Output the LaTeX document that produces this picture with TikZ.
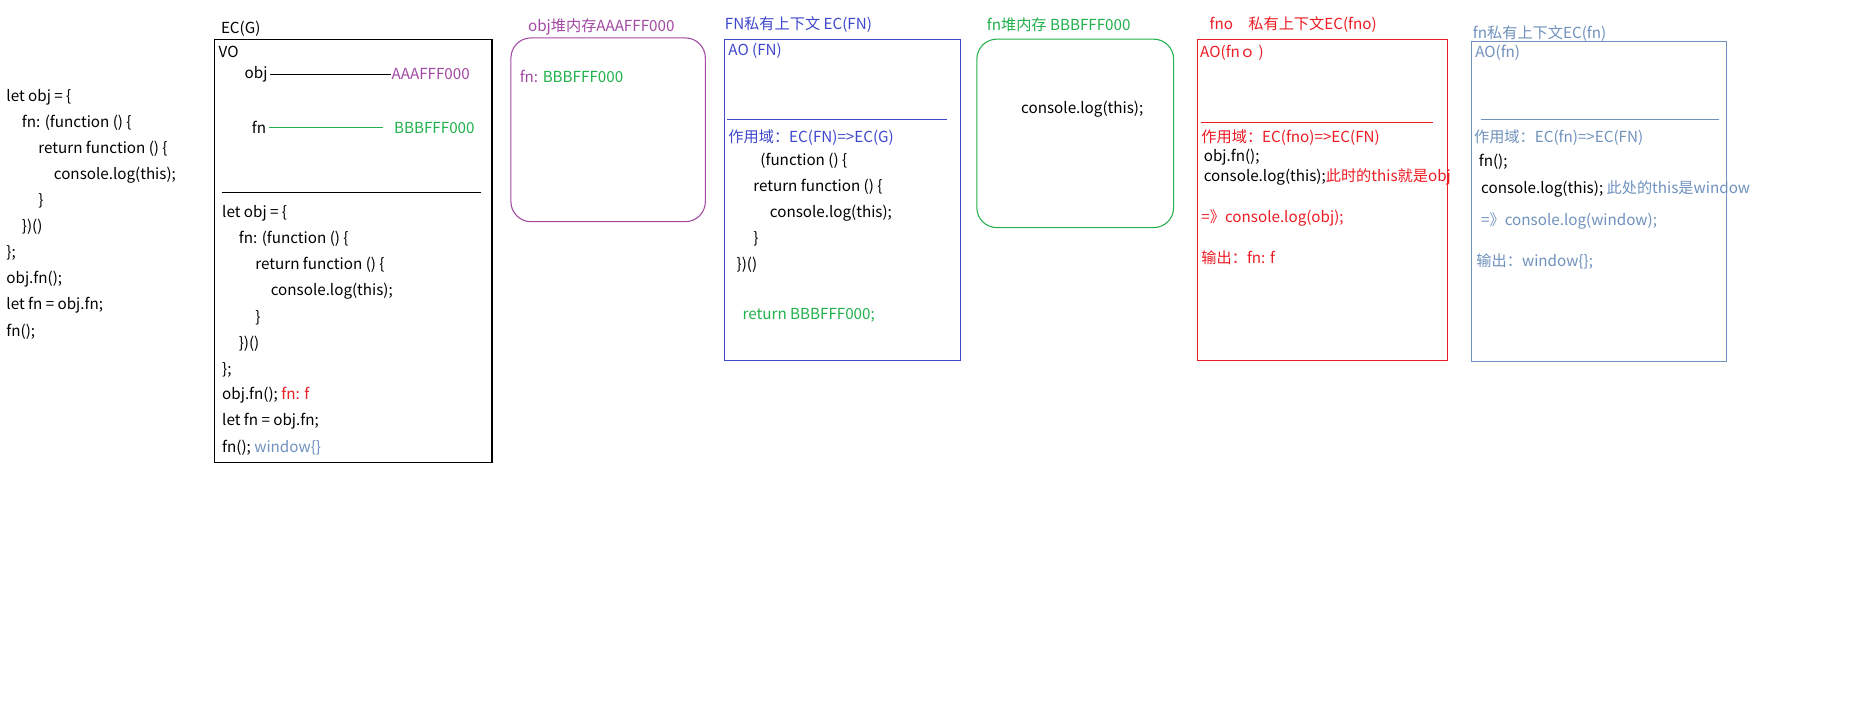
\documentclass[tikz,border=0pt]{standalone}
\usepackage{fontspec}
\setmainfont{Noto Sans CJK SC}
\usepackage{tikz}
\usetikzlibrary{positioning}

\definecolor{heappurple}{HTML}{A349A4}
\definecolor{heapgreen}{HTML}{22B14C}
\definecolor{ecblue}{HTML}{3F48CC}
\definecolor{ecred}{HTML}{ED1C24}
\definecolor{ecsteel}{HTML}{7092BE}

\begin{document}
\begin{tikzpicture}[x=0.889pt,y=-0.889pt,line width=0.8pt,
    code/.style={anchor=west,inner sep=0pt,yshift=-1.5pt,font=\fontsize{11.4}{13}\selectfont},
    title/.style={code}]
  \useasboundingbox[fill=white] (0,0) rectangle (1569,592);

  % source code
  \node[code] (s1) at (5,80) {let obj = \{};
  \node[code] (s2) at (18,102) {fn: (function () \{};
  \node[code] (s3) at (32,124) {return function () \{};
  \node[code] (s4) at (45,146) {console.log(this);};
  \node[code] (s5) at (32,168) {\}};
  \node[code] (s6) at (18,190) {\})()};
  \node[code] (s7) at (5,212) {\};};
  \node[code] (s8) at (5,234) {obj.fn();};
  \node[code] (s9) at (5,256) {let fn = obj.fn;};
  \node[code] (s10) at (5,278) {fn();};

  % EC(G)
  \node[title] (ecg) at (186,23) {EC(G)};
  \draw (181,33) rectangle (415,390);
  \node[code] (vo) at (184,42) {VO};
  \node[code] (vobj) at (206,61) {obj};
  \node[code,text=heappurple] (aaa) at (330,61) {AAAFFF000};
  \draw (vobj.east) ++(2,0) -- (aaa.west);
  \node[code] (vfn) at (212,106) {fn};
  \node[code,text=heapgreen] (bbb) at (332,106) {BBBFFF000};
  \draw[heapgreen] (vfn.east) ++(2,0) -- ([xshift=-8]bbb.west);
  \draw (187,162) -- (406,162);
  \node[code] (g1) at (187,178) {let obj = \{};
  \node[code] (g2) at (201,200) {fn: (function () \{};
  \node[code] (g3) at (215,222) {return function () \{};
  \node[code] (g4) at (228,244) {console.log(this);};
  \node[code] (g5) at (215,266) {\}};
  \node[code] (g6) at (201,288) {\})()};
  \node[code] (g7) at (187,310) {\};};
  \node[code] (g8) at (187,332) {obj.fn(); \textcolor{ecred}{fn: f}};
  \node[code] (g9) at (187,354) {let fn = obj.fn;};
  \node[code] (g10) at (187,376) {fn(); \textcolor{ecsteel}{window\{\}}};

  % obj heap
  \node[title,text=heappurple] (objheap) at (445,21) {obj堆内存AAAFFF000};
  \draw[heappurple,rounded corners=15] (431,32) rectangle (595,187);
  \node[code,text=heappurple] (hfn) at (438,63) {fn: \textcolor{heapgreen}{BBBFFF000}};

  % EC(FN)
  \node[title,text=ecblue] (fnctx) at (611,19) {FN私有上下文 EC(FN)};
  \draw[ecblue] (611,33) rectangle (810,304);
  \node[code,text=ecblue] (aofn) at (614,41) {AO (FN)};
  \draw[ecblue] (613,101) -- (799,101);
  \node[code,text=ecblue] (scfn) at (614,114) {作用域：EC(FN)=>EC(G)};
  \node[code] (f1) at (641,134) {(function () \{};
  \node[code] (f2) at (635,156) {return function () \{};
  \node[code] (f3) at (649,178) {console.log(this);};
  \node[code] (f4) at (635,200) {\}};
  \node[code] (f5) at (621,222) {\})()};
  \node[code,text=heapgreen] (f6) at (626,264) {return BBBFFF000;};

  % fn heap
  \node[title,text=heapgreen] (fnheap) at (832,19) {fn堆内存 BBBFFF000};
  \draw[heapgreen,rounded corners=15] (824,33) rectangle (990,192);
  \node[code] (hlog) at (861,90) {console.log(this);};

  % EC(fno)
  \node[title,text=ecred] (fnoctx) at (1020,19) {fno\quad 私有上下文EC(fno)};
  \draw[ecred] (1010,33) rectangle (1221,304);
  \node[code,text=ecred] (aofno) at (1012,43) {AO(fnｏ )};
  \draw[ecred] (1013,103) -- (1209,103);
  \node[code,text=ecred] (scfno) at (1013,114) {作用域：EC(fno)=>EC(FN)};
  \node[code] (o1) at (1015,131) {obj.fn();};
  \node[code] (o2) at (1015,148) {console.log(this);\textcolor{ecred}{此时的this就是obj}};
  \node[code,text=ecred] (o3) at (1013,182) {=》console.log(obj);};
  \node[code,text=ecred] (o4) at (1013,216) {输出：fn: f};

  % EC(fn)
  \node[title,text=ecsteel] (fnpctx) at (1242,27) {fn私有上下文EC(fn)};
  \draw[ecsteel] (1241,35) rectangle (1456,305);
  \node[code,text=ecsteel] (aofnp) at (1244,43) {AO(fn)};
  \draw[ecsteel] (1249,101) -- (1450,101);
  \node[code,text=ecsteel] (scfnp) at (1243,114) {作用域：EC(fn)=>EC(FN)};
  \node[code] (p1) at (1247,135) {fn();};
  \node[code] (p2) at (1249,158) {console.log(this); \textcolor{ecsteel}{此处的this是window}};
  \node[code,text=ecsteel] (p3) at (1249,185) {=》console.log(window);};
  \node[code,text=ecsteel] (p4) at (1245,219) {输出：window\{\};};
\end{tikzpicture}
\end{document}
